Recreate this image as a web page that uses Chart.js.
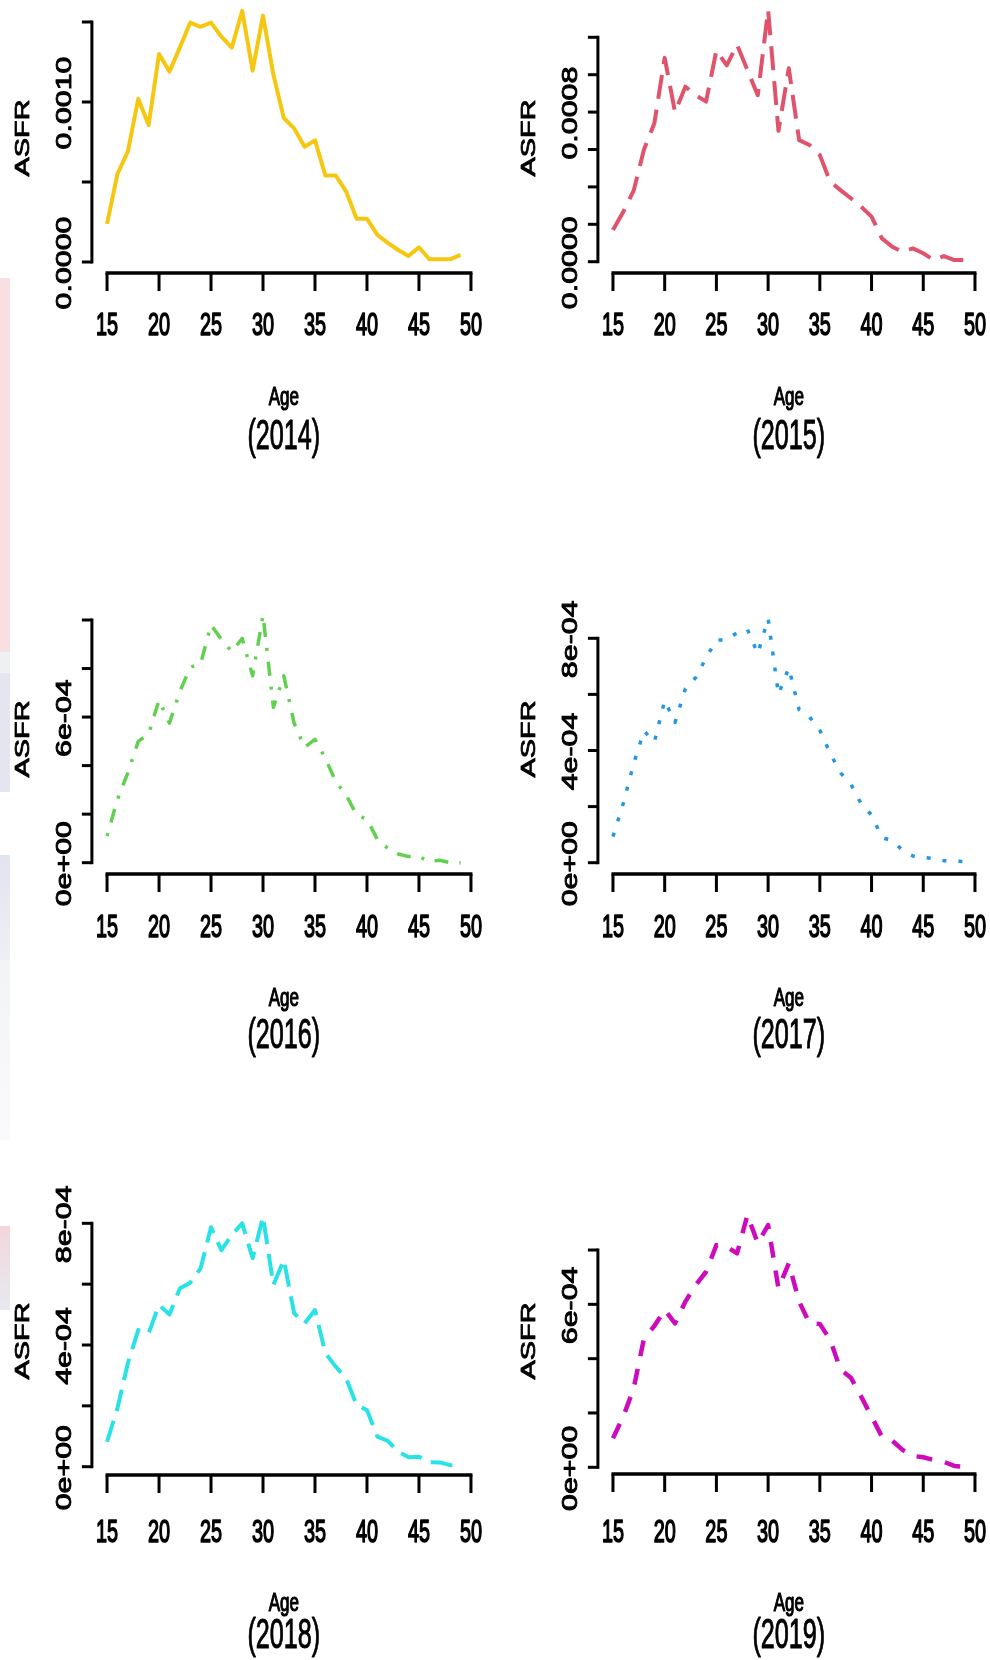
<!DOCTYPE html>
<html>
<head>
<meta charset="utf-8">
<title>ASFR by age, 2014-2019</title>
<script src="https://cdn.jsdelivr.net/npm/chart.js"></script>
<style>
  html, body { margin: 0; padding: 0; background: #fff; }
  body { width: 990px; height: 1660px; position: relative; overflow: hidden; }
  canvas { position: absolute; }
  .edge { position: absolute; left: 0; width: 10px; }
</style>
</head>
<body>
<!-- faint tinted strip along the left margin -->
<div class="edge" style="top:278px;height:374px;background:#F8DFE2"></div>
<div class="edge" style="top:652px;height:21px;background:#EFF0F4"></div>
<div class="edge" style="top:673px;height:119px;background:#E4E6EF"></div>
<div class="edge" style="top:855px;height:105px;background:linear-gradient(160deg,#E1E4EE,#EEF0F5)"></div>
<div class="edge" style="top:960px;height:180px;background:linear-gradient(180deg,#F3F4F8,#FAFAFC)"></div>
<div class="edge" style="top:1226px;height:84px;background:linear-gradient(200deg,#F3D6DB,#E8E9F1)"></div>
<script>
// Age-specific fertility rates, single years of age 15-49
const ages = [15,16,17,18,19,20,21,22,23,24,25,26,27,28,29,30,31,32,33,34,35,36,37,38,39,40,41,42,43,44,45,46,47,48,49];

const asfr2014 = [0.000238,0.000550,0.000690,0.001020,0.000856,0.001300,0.001190,0.001340,0.001496,0.001470,0.001496,0.001408,0.001340,0.001570,0.001196,0.001540,0.001170,0.000900,0.000835,0.000720,0.000760,0.000540,0.000540,0.000440,0.000270,0.000270,0.000170,0.000120,0.000075,0.000038,0.000092,0.000017,0.000017,0.000017,0.000044];
const asfr2015 = [0.000169,0.000267,0.000380,0.000600,0.000740,0.001090,0.000800,0.000936,0.000890,0.000856,0.001130,0.001050,0.001160,0.001025,0.000890,0.001346,0.000700,0.001034,0.000650,0.000624,0.000570,0.000428,0.000383,0.000339,0.000294,0.000241,0.000125,0.000080,0.000053,0.000071,0.000045,0.000009,0.000030,0.000009,0.000009];
const asfr2016 = [0.000110,0.000260,0.000370,0.000500,0.000530,0.000670,0.000575,0.000705,0.000805,0.000820,0.000980,0.000920,0.000870,0.000924,0.000770,0.001020,0.000640,0.000770,0.000574,0.000475,0.000508,0.000430,0.000334,0.000279,0.000196,0.000179,0.000096,0.000059,0.000036,0.000025,0.000025,0.000005,0.000010,0.000000,0.000000];
const asfr2017 = [0.000093,0.000212,0.000353,0.000470,0.000430,0.000578,0.000500,0.000620,0.000660,0.000730,0.000794,0.000794,0.000820,0.000832,0.000745,0.000870,0.000600,0.000695,0.000545,0.000520,0.000472,0.000390,0.000320,0.000280,0.000210,0.000170,0.000090,0.000078,0.000045,0.000024,0.000019,0.000015,0.000007,0.000006,0.000004];
const asfr2018 = [0.000082,0.000192,0.000340,0.000449,0.000438,0.000532,0.000500,0.000586,0.000605,0.000652,0.000787,0.000712,0.000762,0.000800,0.000685,0.000822,0.000597,0.000680,0.000504,0.000471,0.000515,0.000373,0.000329,0.000290,0.000203,0.000186,0.000099,0.000085,0.000049,0.000031,0.000033,0.000015,0.000014,0.000005,0.000005];
const asfr2019 = [0.000107,0.000187,0.000290,0.000475,0.000520,0.000580,0.000530,0.000610,0.000671,0.000720,0.000818,0.000812,0.000788,0.000929,0.000825,0.000892,0.000659,0.000751,0.000610,0.000530,0.000528,0.000469,0.000360,0.000330,0.000260,0.000187,0.000113,0.000098,0.000064,0.000042,0.000037,0.000027,0.000020,0.000005,0.000002];

const years = ['2014','2015','2016','2017','2018','2019'];

// Axis ticks and their printed labels (blank = tick without label)
const xTicks = [15,20,25,30,35,40,45,50];
const yTicks2014 = [0, 0.0005, 0.001, 0.0015];
const yLabels2014 = ['0.0000', '', '0.0010', ''];
const yTicks2015 = [0, 0.0002, 0.0004, 0.0006, 0.0008, 0.001, 0.0012];
const yLabels2015 = ['0.0000', '', '', '', '0.0008', '', ''];
const yTicks2016 = [0, 0.0002, 0.0004, 0.0006, 0.0008, 0.001];
const yLabels2016 = ['0e+00', '', '', '6e-04', '', ''];
const yTicks2017 = [0, 0.0002, 0.0004, 0.0006, 0.0008];
const yLabels2017 = ['0e+00', '', '4e-04', '', '8e-04'];
const yTicks2018 = [0, 0.0002, 0.0004, 0.0006, 0.0008];
const yLabels2018 = ['0e+00', '', '4e-04', '', '8e-04'];
const yTicks2019 = [0, 0.0002, 0.0004, 0.0006, 0.0008];
const yLabels2019 = ['0e+00', '', '', '6e-04', ''];

const seriesByPanel = [asfr2014, asfr2015, asfr2016, asfr2017, asfr2018, asfr2019];
const yTicksByPanel = [yTicks2014, yTicks2015, yTicks2016, yTicks2017, yTicks2018, yTicks2019];
const yLabelsByPanel = [yLabels2014, yLabels2015, yLabels2016, yLabels2017, yLabels2018, yLabels2019];

// ---- page layout (2 columns x 3 rows) ----
const FONT = '"Liberation Sans", Arimo, Arial, Helvetica, sans-serif';
const CANVAS_W = 495;
const columns = [
  { left: 0,   plotLeft: 92.9,  plotRight: 474.7 },
  { left: 495, plotLeft: 598.9, plotRight: 978.7 }
];
const rows = [
  { top: 0,    height: 580, plotTop: 5,    xLabBase: 335,  ageBase: 405,  yearBase: 449,  asfrMid: 138 },
  { top: 580,  height: 590, plotTop: 590,  xLabBase: 937,  ageBase: 1006, yearBase: 1048, asfrMid: 739 },
  { top: 1170, height: 490, plotTop: 1190, xLabBase: 1542, ageBase: 1611, yearBase: 1648, asfrMid: 1341 }
];
// per panel: plot bottom (axis line) and the value range of the plotting region
const panels = [
  { col: 0, row: 0, plotBottom: 273,  yMin: -0.00006875, yMax: 0.00160625 },
  { col: 1, row: 0, plotBottom: 273,  yMin: -0.0000604,  yMax: 0.0013727 },
  { col: 0, row: 1, plotBottom: 874,  yMin: -0.0000466,  yMax: 0.0011236 },
  { col: 1, row: 1, plotBottom: 874,  yMin: -0.0000403,  yMax: 0.0009722 },
  { col: 0, row: 2, plotBottom: 1475, yMin: -0.0000273,  yMax: 0.0009095 },
  { col: 1, row: 2, plotBottom: 1474, yMin: -0.0000247,  yMax: 0.0010210 }
];
const lineStyles = [
  { color: '#F5C710', width: 4,   dash: [] },
  { color: '#DF536B', width: 4,   dash: [24, 11] },
  { color: '#61D04F', width: 3.5, dash: [3, 11, 14, 11] },
  { color: '#2297E6', width: 3.5, dash: [4, 12] },
  { color: '#28E2E5', width: 4,   dash: [22, 10] },
  { color: '#CD0BBC', width: 4.5, dash: [16, 13] }
];

// fill plus a hairline stroke gives the slightly heavy print look
function paintText(ctx, s, weight) {
  ctx.fillText(s, 0, 0);
  if (weight > 0) {
    ctx.lineWidth = weight;
    ctx.lineJoin = 'round';
    ctx.strokeText(s, 0, 0);
  }
}
// horizontal text squeezed sideways
function hText(ctx, s, cx, base, size, sx, weight) {
  ctx.save();
  ctx.translate(cx, base);
  ctx.scale(sx, 1);
  ctx.font = size + 'px ' + FONT;
  ctx.textAlign = 'center';
  ctx.textBaseline = 'alphabetic';
  paintText(ctx, s, weight);
  ctx.restore();
}
// text rotated to read bottom-to-top, stretched along its length
function vText(ctx, s, baseX, cy, size, st, weight) {
  ctx.save();
  ctx.translate(baseX, cy);
  ctx.rotate(-Math.PI / 2);
  ctx.scale(st, 1);
  ctx.font = size + 'px ' + FONT;
  ctx.textAlign = 'center';
  ctx.textBaseline = 'alphabetic';
  paintText(ctx, s, weight);
  ctx.restore();
}

// base-graphics style axes: detached lines spanning first to last tick
const rAxes = {
  id: 'rAxes',
  afterDraw(chart, args, o) {
    const { ctx, chartArea: a } = chart;
    const xs = chart.scales.x, ys = chart.scales.y;
    const seg = (x1, y1, x2, y2) => { ctx.beginPath(); ctx.moveTo(x1, y1); ctx.lineTo(x2, y2); ctx.stroke(); };
    ctx.save();
    ctx.strokeStyle = '#000';
    ctx.fillStyle = '#000';
    ctx.lineCap = 'butt';

    // x axis
    const xp = o.xTicks.map(v => xs.getPixelForValue(v));
    ctx.lineWidth = 3.5;
    seg(xp[0] - 1.5, a.bottom, xp[xp.length - 1] + 1.5, a.bottom);
    ctx.lineWidth = 3;
    xp.forEach(px => seg(px, a.bottom, px, a.bottom + 18));
    o.xTicks.forEach((v, i) => hText(ctx, String(v), xp[i], o.xLabBase, 32, 0.62, 1.6));

    // y axis
    const yp = o.yTicks.map(v => ys.getPixelForValue(v));
    const ax = a.left - 1;
    ctx.lineWidth = 3;
    seg(ax, yp[0] + 1.5, ax, yp[yp.length - 1] - 1.5);
    yp.forEach(py => seg(ax, py, ax - 10, py));
    o.yLabels.forEach((s, i) => { if (s) vText(ctx, s, a.left - 22, yp[i] + 1, 22, 1.38, 0.9); });

    // titles
    vText(ctx, 'ASFR', a.left - 64, o.asfrMid, 19.5, 1.48, 0.8);
    const mid = (a.left + a.right) / 2;
    hText(ctx, 'Age', mid, o.ageBase, 25, 0.68, 1.2);
    hText(ctx, '(' + o.year + ')', mid, o.yearBase, 42, 0.6, 1.0);
    ctx.restore();
  }
};

panels.forEach((p, i) => {
  const c = columns[p.col], r = rows[p.row], st = lineStyles[i];
  const cv = document.createElement('canvas');
  cv.width = CANVAS_W; cv.height = r.height;
  cv.style.left = c.left + 'px'; cv.style.top = r.top + 'px';
  cv.style.width = CANVAS_W + 'px'; cv.style.height = r.height + 'px';
  document.body.appendChild(cv);

  new Chart(cv, {
    type: 'line',
    data: {
      datasets: [{
        label: years[i],
        data: ages.map((a, k) => ({ x: a, y: seriesByPanel[i][k] })),
        borderColor: st.color,
        borderWidth: st.width,
        borderDash: st.dash,
        borderCapStyle: 'butt',
        borderJoinStyle: 'round',
        pointRadius: 0,
        tension: 0,
        fill: false
      }]
    },
    options: {
      responsive: false,
      animation: false,
      events: [],
      layout: {
        padding: {
          left: c.plotLeft - c.left,
          right: CANVAS_W - (c.plotRight - c.left),
          top: r.plotTop - r.top,
          bottom: r.height - (p.plotBottom - r.top)
        }
      },
      scales: {
        x: { type: 'linear', min: 13.64, max: 50.36, display: false },
        y: { type: 'linear', min: p.yMin, max: p.yMax, display: false }
      },
      plugins: {
        legend: { display: false },
        tooltip: { enabled: false },
        rAxes: {
          xTicks: xTicks,
          yTicks: yTicksByPanel[i],
          yLabels: yLabelsByPanel[i],
          year: years[i],
          xLabBase: r.xLabBase - r.top,
          ageBase: r.ageBase - r.top,
          yearBase: r.yearBase - r.top,
          asfrMid: r.asfrMid - r.top
        }
      }
    },
    plugins: [rAxes]
  });
});
</script>
</body>
</html>
